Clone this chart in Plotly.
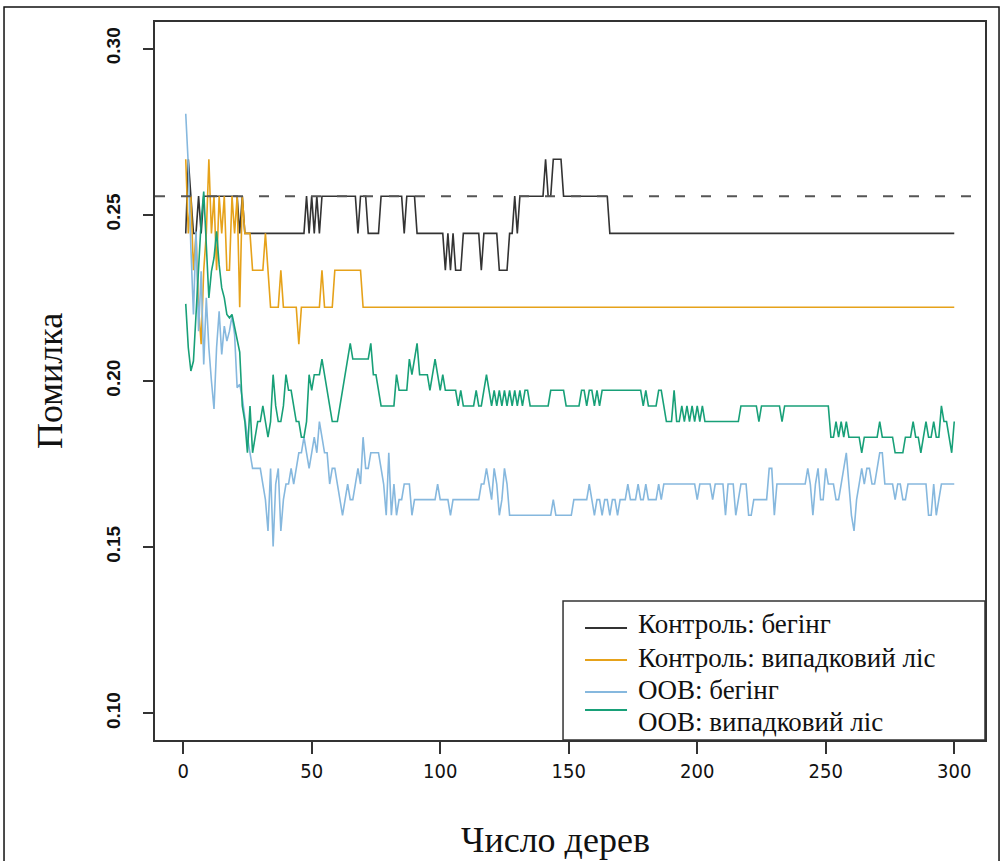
import plotly.graph_objects as go

trees = list(range(1, 301))

test_bagging = [
    0.2444, 0.2667, 0.2556, 0.2444, 0.2444, 0.2556, 0.2444, 0.2556, 0.2556, 0.2556,
    0.2556, 0.2556, 0.2556, 0.2556, 0.2556, 0.2556, 0.2556, 0.2556, 0.2556, 0.2556,
    0.2556, 0.2444, 0.2556, 0.2444, 0.2444, 0.2444, 0.2444, 0.2444, 0.2444, 0.2444,
    0.2444, 0.2444, 0.2444, 0.2444, 0.2444, 0.2444, 0.2444, 0.2444, 0.2444, 0.2444,
    0.2444, 0.2444, 0.2444, 0.2444, 0.2444, 0.2444, 0.2444, 0.2556, 0.2444, 0.2556,
    0.2444, 0.2556, 0.2444, 0.2556, 0.2556, 0.2556, 0.2556, 0.2556, 0.2556, 0.2556,
    0.2556, 0.2556, 0.2556, 0.2556, 0.2556, 0.2556, 0.2556, 0.2444, 0.2556, 0.2556,
    0.2556, 0.2444, 0.2444, 0.2444, 0.2444, 0.2444, 0.2556, 0.2556, 0.2556, 0.2556,
    0.2556, 0.2556, 0.2556, 0.2556, 0.2556, 0.2444, 0.2556, 0.2556, 0.2556, 0.2556,
    0.2444, 0.2444, 0.2444, 0.2444, 0.2444, 0.2444, 0.2444, 0.2444, 0.2444, 0.2444,
    0.2444, 0.2333, 0.2444, 0.2333, 0.2444, 0.2333, 0.2333, 0.2333, 0.2444, 0.2444,
    0.2444, 0.2444, 0.2444, 0.2444, 0.2444, 0.2333, 0.2444, 0.2444, 0.2444, 0.2444,
    0.2444, 0.2444, 0.2333, 0.2333, 0.2333, 0.2333, 0.2444, 0.2444, 0.2556, 0.2444,
    0.2556, 0.2556, 0.2556, 0.2556, 0.2556, 0.2556, 0.2556, 0.2556, 0.2556, 0.2556,
    0.2667, 0.2556, 0.2556, 0.2667, 0.2667, 0.2667, 0.2667, 0.2556, 0.2556, 0.2556,
    0.2556, 0.2556, 0.2556, 0.2556, 0.2556, 0.2556, 0.2556, 0.2556, 0.2556, 0.2556,
    0.2556, 0.2556, 0.2556, 0.2556, 0.2556, 0.2444, 0.2444, 0.2444, 0.2444, 0.2444,
    0.2444, 0.2444, 0.2444, 0.2444, 0.2444, 0.2444, 0.2444, 0.2444, 0.2444, 0.2444,
    0.2444, 0.2444, 0.2444, 0.2444, 0.2444, 0.2444, 0.2444, 0.2444, 0.2444, 0.2444,
    0.2444, 0.2444, 0.2444, 0.2444, 0.2444, 0.2444, 0.2444, 0.2444, 0.2444, 0.2444,
    0.2444, 0.2444, 0.2444, 0.2444, 0.2444, 0.2444, 0.2444, 0.2444, 0.2444, 0.2444,
    0.2444, 0.2444, 0.2444, 0.2444, 0.2444, 0.2444, 0.2444, 0.2444, 0.2444, 0.2444,
    0.2444, 0.2444, 0.2444, 0.2444, 0.2444, 0.2444, 0.2444, 0.2444, 0.2444, 0.2444,
    0.2444, 0.2444, 0.2444, 0.2444, 0.2444, 0.2444, 0.2444, 0.2444, 0.2444, 0.2444,
    0.2444, 0.2444, 0.2444, 0.2444, 0.2444, 0.2444, 0.2444, 0.2444, 0.2444, 0.2444,
    0.2444, 0.2444, 0.2444, 0.2444, 0.2444, 0.2444, 0.2444, 0.2444, 0.2444, 0.2444,
    0.2444, 0.2444, 0.2444, 0.2444, 0.2444, 0.2444, 0.2444, 0.2444, 0.2444, 0.2444,
    0.2444, 0.2444, 0.2444, 0.2444, 0.2444, 0.2444, 0.2444, 0.2444, 0.2444, 0.2444,
    0.2444, 0.2444, 0.2444, 0.2444, 0.2444, 0.2444, 0.2444, 0.2444, 0.2444, 0.2444,
    0.2444, 0.2444, 0.2444, 0.2444, 0.2444, 0.2444, 0.2444, 0.2444, 0.2444, 0.2444,
]

test_rf = [
    0.2667, 0.2444, 0.2556, 0.2333, 0.2444, 0.2222, 0.2111, 0.2333, 0.2444, 0.2667,
    0.2444, 0.2556, 0.2333, 0.2556, 0.2444, 0.2556, 0.2333, 0.2333, 0.2556, 0.2444,
    0.2556, 0.2222, 0.2556, 0.2444, 0.2444, 0.2444, 0.2333, 0.2333, 0.2333, 0.2333,
    0.2333, 0.2444, 0.2333, 0.2222, 0.2222, 0.2222, 0.2222, 0.2333, 0.2222, 0.2222,
    0.2222, 0.2222, 0.2222, 0.2222, 0.2111, 0.2222, 0.2222, 0.2222, 0.2222, 0.2222,
    0.2222, 0.2222, 0.2222, 0.2333, 0.2222, 0.2222, 0.2222, 0.2222, 0.2333, 0.2333,
    0.2333, 0.2333, 0.2333, 0.2333, 0.2333, 0.2333, 0.2333, 0.2333, 0.2333, 0.2222,
    0.2222, 0.2222, 0.2222, 0.2222, 0.2222, 0.2222, 0.2222, 0.2222, 0.2222, 0.2222,
    0.2222, 0.2222, 0.2222, 0.2222, 0.2222, 0.2222, 0.2222, 0.2222, 0.2222, 0.2222,
    0.2222, 0.2222, 0.2222, 0.2222, 0.2222, 0.2222, 0.2222, 0.2222, 0.2222, 0.2222,
    0.2222, 0.2222, 0.2222, 0.2222, 0.2222, 0.2222, 0.2222, 0.2222, 0.2222, 0.2222,
    0.2222, 0.2222, 0.2222, 0.2222, 0.2222, 0.2222, 0.2222, 0.2222, 0.2222, 0.2222,
    0.2222, 0.2222, 0.2222, 0.2222, 0.2222, 0.2222, 0.2222, 0.2222, 0.2222, 0.2222,
    0.2222, 0.2222, 0.2222, 0.2222, 0.2222, 0.2222, 0.2222, 0.2222, 0.2222, 0.2222,
    0.2222, 0.2222, 0.2222, 0.2222, 0.2222, 0.2222, 0.2222, 0.2222, 0.2222, 0.2222,
    0.2222, 0.2222, 0.2222, 0.2222, 0.2222, 0.2222, 0.2222, 0.2222, 0.2222, 0.2222,
    0.2222, 0.2222, 0.2222, 0.2222, 0.2222, 0.2222, 0.2222, 0.2222, 0.2222, 0.2222,
    0.2222, 0.2222, 0.2222, 0.2222, 0.2222, 0.2222, 0.2222, 0.2222, 0.2222, 0.2222,
    0.2222, 0.2222, 0.2222, 0.2222, 0.2222, 0.2222, 0.2222, 0.2222, 0.2222, 0.2222,
    0.2222, 0.2222, 0.2222, 0.2222, 0.2222, 0.2222, 0.2222, 0.2222, 0.2222, 0.2222,
    0.2222, 0.2222, 0.2222, 0.2222, 0.2222, 0.2222, 0.2222, 0.2222, 0.2222, 0.2222,
    0.2222, 0.2222, 0.2222, 0.2222, 0.2222, 0.2222, 0.2222, 0.2222, 0.2222, 0.2222,
    0.2222, 0.2222, 0.2222, 0.2222, 0.2222, 0.2222, 0.2222, 0.2222, 0.2222, 0.2222,
    0.2222, 0.2222, 0.2222, 0.2222, 0.2222, 0.2222, 0.2222, 0.2222, 0.2222, 0.2222,
    0.2222, 0.2222, 0.2222, 0.2222, 0.2222, 0.2222, 0.2222, 0.2222, 0.2222, 0.2222,
    0.2222, 0.2222, 0.2222, 0.2222, 0.2222, 0.2222, 0.2222, 0.2222, 0.2222, 0.2222,
    0.2222, 0.2222, 0.2222, 0.2222, 0.2222, 0.2222, 0.2222, 0.2222, 0.2222, 0.2222,
    0.2222, 0.2222, 0.2222, 0.2222, 0.2222, 0.2222, 0.2222, 0.2222, 0.2222, 0.2222,
    0.2222, 0.2222, 0.2222, 0.2222, 0.2222, 0.2222, 0.2222, 0.2222, 0.2222, 0.2222,
    0.2222, 0.2222, 0.2222, 0.2222, 0.2222, 0.2222, 0.2222, 0.2222, 0.2222, 0.2222,
]

oob_bagging = [
    0.2804, 0.2650, 0.2400, 0.2200, 0.2450, 0.2150, 0.2330, 0.2050, 0.2250, 0.2100,
    0.2000, 0.1916, 0.2100, 0.2210, 0.2080, 0.2165, 0.2120, 0.2150, 0.2196, 0.2140,
    0.1980, 0.1990, 0.1950, 0.1880, 0.1830, 0.1784, 0.1737, 0.1737, 0.1737, 0.1737,
    0.1690, 0.1643, 0.1549, 0.1737, 0.1502, 0.1690, 0.1737, 0.1549, 0.1643, 0.1690,
    0.1690, 0.1737, 0.1690, 0.1737, 0.1784, 0.1784, 0.1831, 0.1784, 0.1737, 0.1784,
    0.1831, 0.1784, 0.1878, 0.1831, 0.1784, 0.1784, 0.1690, 0.1737, 0.1737, 0.1690,
    0.1643, 0.1596, 0.1643, 0.1690, 0.1643, 0.1643, 0.1690, 0.1737, 0.1690, 0.1831,
    0.1737, 0.1737, 0.1784, 0.1784, 0.1784, 0.1784, 0.1737, 0.1690, 0.1596, 0.1784,
    0.1596, 0.1690, 0.1596, 0.1643, 0.1643, 0.1690, 0.1690, 0.1690, 0.1596, 0.1643,
    0.1643, 0.1643, 0.1643, 0.1643, 0.1643, 0.1643, 0.1643, 0.1643, 0.1690, 0.1643,
    0.1643, 0.1643, 0.1643, 0.1596, 0.1643, 0.1643, 0.1643, 0.1643, 0.1643, 0.1643,
    0.1643, 0.1643, 0.1643, 0.1643, 0.1643, 0.1690, 0.1690, 0.1737, 0.1690, 0.1643,
    0.1737, 0.1690, 0.1596, 0.1643, 0.1737, 0.1690, 0.1596, 0.1596, 0.1596, 0.1596,
    0.1596, 0.1596, 0.1596, 0.1596, 0.1596, 0.1596, 0.1596, 0.1596, 0.1596, 0.1596,
    0.1596, 0.1596, 0.1596, 0.1643, 0.1596, 0.1596, 0.1596, 0.1596, 0.1596, 0.1596,
    0.1596, 0.1643, 0.1643, 0.1643, 0.1643, 0.1643, 0.1643, 0.1690, 0.1643, 0.1596,
    0.1643, 0.1643, 0.1596, 0.1643, 0.1643, 0.1596, 0.1643, 0.1643, 0.1596, 0.1643,
    0.1643, 0.1643, 0.1690, 0.1643, 0.1643, 0.1643, 0.1690, 0.1643, 0.1643, 0.1690,
    0.1643, 0.1643, 0.1643, 0.1643, 0.1690, 0.1643, 0.1690, 0.1690, 0.1690, 0.1690,
    0.1690, 0.1690, 0.1690, 0.1690, 0.1690, 0.1690, 0.1690, 0.1690, 0.1690, 0.1643,
    0.1690, 0.1690, 0.1690, 0.1690, 0.1690, 0.1643, 0.1690, 0.1690, 0.1690, 0.1690,
    0.1596, 0.1690, 0.1690, 0.1690, 0.1596, 0.1643, 0.1690, 0.1690, 0.1690, 0.1596,
    0.1596, 0.1643, 0.1643, 0.1643, 0.1643, 0.1643, 0.1643, 0.1737, 0.1737, 0.1596,
    0.1690, 0.1690, 0.1690, 0.1690, 0.1690, 0.1690, 0.1690, 0.1690, 0.1690, 0.1690,
    0.1690, 0.1690, 0.1737, 0.1690, 0.1596, 0.1690, 0.1737, 0.1643, 0.1643, 0.1737,
    0.1690, 0.1690, 0.1690, 0.1643, 0.1643, 0.1690, 0.1737, 0.1784, 0.1690, 0.1596,
    0.1549, 0.1643, 0.1690, 0.1737, 0.1690, 0.1737, 0.1737, 0.1690, 0.1690, 0.1737,
    0.1784, 0.1784, 0.1690, 0.1690, 0.1690, 0.1690, 0.1643, 0.1690, 0.1690, 0.1643,
    0.1643, 0.1690, 0.1690, 0.1690, 0.1690, 0.1690, 0.1690, 0.1690, 0.1690, 0.1596,
    0.1596, 0.1690, 0.1596, 0.1643, 0.1690, 0.1690, 0.1690, 0.1690, 0.1690, 0.1690,
]

oob_rf = [
    0.2232, 0.2100, 0.2030, 0.2060, 0.2200, 0.2350, 0.2480, 0.2570, 0.2400, 0.2250,
    0.2330, 0.2370, 0.2450, 0.2350, 0.2280, 0.2250, 0.2200, 0.2190, 0.2200, 0.2165,
    0.2120, 0.2087, 0.1925, 0.1878, 0.1784, 0.1925, 0.1784, 0.1831, 0.1878, 0.1878,
    0.1925, 0.1878, 0.1831, 0.1878, 0.2019, 0.1925, 0.1878, 0.1878, 0.1925, 0.2019,
    0.1972, 0.1972, 0.1925, 0.1878, 0.1878, 0.1831, 0.1831, 0.1878, 0.2019, 0.1972,
    0.2019, 0.2019, 0.2019, 0.2066, 0.2019, 0.1972, 0.1925, 0.1878, 0.1878, 0.1878,
    0.1925, 0.1972, 0.2019, 0.2066, 0.2113, 0.2066, 0.2066, 0.2066, 0.2066, 0.2066,
    0.2066, 0.2066, 0.2113, 0.2019, 0.2019, 0.1972, 0.1925, 0.1925, 0.1925, 0.1925,
    0.1925, 0.1925, 0.2019, 0.1972, 0.1972, 0.1972, 0.1972, 0.2066, 0.2019, 0.2066,
    0.2113, 0.2019, 0.2019, 0.2019, 0.2019, 0.1972, 0.2019, 0.2066, 0.2019, 0.1972,
    0.2019, 0.1972, 0.1972, 0.1972, 0.1972, 0.1972, 0.1925, 0.1972, 0.1925, 0.1925,
    0.1925, 0.1925, 0.1925, 0.1972, 0.1925, 0.1925, 0.1972, 0.2019, 0.1972, 0.1925,
    0.1972, 0.1925, 0.1972, 0.1925, 0.1972, 0.1925, 0.1972, 0.1925, 0.1972, 0.1925,
    0.1972, 0.1925, 0.1972, 0.1972, 0.1925, 0.1925, 0.1925, 0.1925, 0.1925, 0.1925,
    0.1925, 0.1925, 0.1972, 0.1972, 0.1972, 0.1972, 0.1972, 0.1972, 0.1925, 0.1925,
    0.1925, 0.1925, 0.1925, 0.1925, 0.1972, 0.1972, 0.1925, 0.1972, 0.1972, 0.1925,
    0.1972, 0.1925, 0.1972, 0.1972, 0.1972, 0.1972, 0.1972, 0.1972, 0.1972, 0.1972,
    0.1972, 0.1972, 0.1972, 0.1972, 0.1972, 0.1972, 0.1972, 0.1972, 0.1925, 0.1972,
    0.1925, 0.1925, 0.1925, 0.1925, 0.1972, 0.1972, 0.1925, 0.1878, 0.1878, 0.1878,
    0.1972, 0.1878, 0.1878, 0.1925, 0.1878, 0.1925, 0.1878, 0.1925, 0.1878, 0.1925,
    0.1878, 0.1925, 0.1878, 0.1878, 0.1878, 0.1878, 0.1878, 0.1878, 0.1878, 0.1878,
    0.1878, 0.1878, 0.1878, 0.1878, 0.1878, 0.1878, 0.1925, 0.1925, 0.1925, 0.1925,
    0.1925, 0.1925, 0.1925, 0.1878, 0.1925, 0.1925, 0.1925, 0.1925, 0.1925, 0.1925,
    0.1925, 0.1925, 0.1878, 0.1925, 0.1925, 0.1925, 0.1925, 0.1925, 0.1925, 0.1925,
    0.1925, 0.1925, 0.1925, 0.1925, 0.1925, 0.1925, 0.1925, 0.1925, 0.1925, 0.1925,
    0.1925, 0.1831, 0.1831, 0.1878, 0.1831, 0.1878, 0.1831, 0.1878, 0.1831, 0.1831,
    0.1831, 0.1831, 0.1831, 0.1784, 0.1831, 0.1831, 0.1831, 0.1831, 0.1831, 0.1831,
    0.1878, 0.1831, 0.1831, 0.1831, 0.1831, 0.1831, 0.1784, 0.1784, 0.1784, 0.1784,
    0.1831, 0.1831, 0.1831, 0.1878, 0.1831, 0.1831, 0.1784, 0.1831, 0.1878, 0.1831,
    0.1831, 0.1878, 0.1831, 0.1831, 0.1925, 0.1878, 0.1878, 0.1831, 0.1784, 0.1878,
]

single_tree_error = 0.2556

series_names = ["Контроль: бегінг", "Контроль: випадковий ліс", "OOB: бегінг", "OOB: випадковий ліс"]
series_values = [test_bagging, test_rf, oob_bagging, oob_rf]
series_colors = ["#333333", "#E6A21A", "#86B8DE", "#18A078"]

x_ticks = [0, 50, 100, 150, 200, 250, 300]
y_ticks = [0.10, 0.15, 0.20, 0.25, 0.30]
y_tick_text = ["0.10", "0.15", "0.20", "0.25", "0.30"]

# legend layout (paper coordinates of the hand-drawn R-style legend)
legend_text_y = [0.1616, 0.1142, 0.0696, 0.0251]
legend_line_y = [0.1560, 0.1114, 0.0669, 0.0418]

fig = go.Figure()
for name, vals, col in zip(series_names, series_values, series_colors):
    fig.add_trace(go.Scatter(
        x=trees, y=vals, mode="lines", name=name,
        line=dict(color=col, width=1.6),
        showlegend=False,
    ))

fig.add_hline(y=single_tree_error, line=dict(color="#555555", width=2, dash="10px,16px"))

axis_line = "#333333"
fig.update_xaxes(
    range=[-10.96, 311.96], tickvals=x_ticks, ticks="outside", ticklen=12,
    tickwidth=1.5, tickcolor=axis_line, showline=True, mirror=True,
    linecolor=axis_line, linewidth=1.5, showgrid=False, zeroline=False,
    tickfont=dict(family="Liberation Sans Narrow, DejaVu Sans Condensed, Liberation Sans", size=20, color="#111"),
)
fig.update_yaxes(
    range=[0.092, 0.308], tickvals=y_ticks, ticktext=y_tick_text, ticks="outside",
    ticklen=10, tickwidth=1.5, tickcolor=axis_line, showline=True, mirror=True,
    linecolor=axis_line, linewidth=1.5, showgrid=False, zeroline=False,
    tickangle=-90, ticklabelstandoff=16,
    tickfont=dict(family="Liberation Sans, Arial", size=19, color="#111", weight="bold"),
)

# legend box and outer frame
fig.add_shape(type="rect", xref="paper", yref="paper", x0=0.4916, x1=1.0, y0=0.0, y1=0.1936,
              line=dict(color="#333333", width=1.5), fillcolor="white", layer="above")
fig.add_shape(type="rect", xref="paper", yref="paper", x0=-0.1819, x1=1.0169, y0=-0.19, y1=1.0209,
              line=dict(color="#111111", width=1.5), fillcolor="rgba(0,0,0,0)")

for name, col, ty, ly in zip(series_names, series_colors, legend_text_y, legend_line_y):
    fig.add_shape(type="line", xref="paper", yref="paper", x0=0.5181, x1=0.5687, y0=ly, y1=ly,
                  line=dict(color=col, width=2))
    fig.add_annotation(text=name, xref="paper", yref="paper", x=0.5795, y=ty,
                       showarrow=False, xanchor="left", yanchor="middle",
                       font=dict(family="Liberation Serif, Times New Roman", size=27, color="#111"))

fig.add_annotation(text="Число дерев", xref="paper", yref="paper", x=0.482, y=-0.1393,
                   showarrow=False, xanchor="center", yanchor="middle",
                   font=dict(family="Liberation Serif, Times New Roman", size=36, color="#111"))
fig.add_annotation(text="Помилка", xref="paper", yref="paper", x=-0.1265, y=0.5,
                   showarrow=False, xanchor="center", yanchor="middle", textangle=-90,
                   font=dict(family="Liberation Serif, Times New Roman", size=36, color="#111"))

fig.update_layout(
    width=1004, height=861,
    margin=dict(l=155, r=19, t=22, b=121),
    paper_bgcolor="white", plot_bgcolor="white",
    showlegend=False,
)

fig.write_html("out.html")
